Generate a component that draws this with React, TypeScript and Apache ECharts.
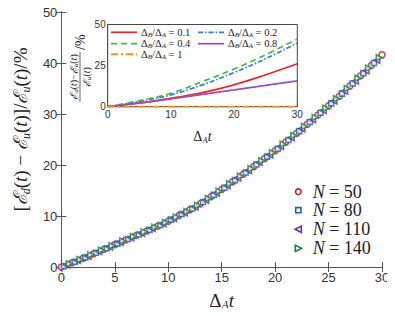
import React, { useEffect, useRef } from "react";
import * as echarts from "echarts";

// ---------- main panel data ----------
const tN50 = [0, 1, 2, 3, 4, 5, 6, 7, 8, 9, 10, 11, 12, 13, 14, 15, 16, 17, 18, 19, 20, 21, 22, 23, 24, 25, 26, 27, 28, 29, 30];
const vN50 = [0, 0.85, 1.7, 2.6, 3.5, 4.4, 5.3, 6.2, 7.1, 8.0, 9.0, 10.1, 11.2, 12.4, 13.8, 15.2, 16.7, 18.2, 19.7, 21.25, 22.8, 24.5, 26.2, 28.0, 29.8, 31.6, 33.5, 35.5, 37.5, 39.5, 41.6];

const tN80 = [0.25, 1.25, 2.25, 3.25, 4.25, 5.25, 6.25, 7.25, 8.25, 9.25, 10.25, 11.25, 12.25, 13.25, 14.25, 15.25, 16.25, 17.25, 18.25, 19.25, 20.25, 21.25, 22.25, 23.25, 24.25, 25.25, 26.25, 27.25, 28.25, 29.25];
const vN80 = [0.2, 1.05, 1.9, 2.8, 3.7, 4.6, 5.5, 6.4, 7.3, 8.25, 9.3, 10.4, 11.5, 12.75, 14.15, 15.55, 17.05, 18.55, 20.1, 21.65, 23.2, 24.9, 26.65, 28.45, 30.25, 32.1, 34.0, 36.0, 38.0, 40.0];

const tN110 = [0.5, 1.5, 2.5, 3.5, 4.5, 5.5, 6.5, 7.5, 8.5, 9.5, 10.5, 11.5, 12.5, 13.5, 14.5, 15.5, 16.5, 17.5, 18.5, 19.5, 20.5, 21.5, 22.5, 23.5, 24.5, 25.5, 26.5, 27.5, 28.5, 29.5];
const vN110 = [0.4, 1.3, 2.15, 3.05, 3.95, 4.85, 5.75, 6.65, 7.55, 8.5, 9.55, 10.65, 11.8, 13.1, 14.5, 15.95, 17.45, 18.95, 20.5, 22.0, 23.65, 25.35, 27.1, 28.9, 30.7, 32.55, 34.5, 36.5, 38.5, 40.55];

const tN140 = [0.75, 1.75, 2.75, 3.75, 4.75, 5.75, 6.75, 7.75, 8.75, 9.75, 10.75, 11.75, 12.75, 13.75, 14.75, 15.75, 16.75, 17.75, 18.75, 19.75, 20.75, 21.75, 22.75, 23.75, 24.75, 25.75, 26.75, 27.75, 28.75, 29.75];
const vN140 = [0.65, 1.5, 2.4, 3.3, 4.2, 5.1, 6.0, 6.9, 7.8, 8.75, 9.8, 10.9, 12.1, 13.45, 14.85, 16.35, 17.8, 19.3, 20.85, 22.4, 24.1, 25.8, 27.55, 29.35, 31.15, 33.0, 35.0, 37.0, 39.0, 41.05];

const mainNames = ["N = 50", "N = 80", "N = 110", "N = 140"];

// ---------- inset data ----------
const insetT = [0, 5, 10, 15, 20, 25, 30];
const ratio01 = [0, 2.3, 5.1, 8.6, 13.3, 19.4, 26.1];
const ratio02 = [0, 3.2, 7.2, 13.3, 20.8, 29.2, 38.8];
const ratio04 = [0, 3.7, 8.2, 15.3, 22.9, 31.6, 41.2];
const ratio08 = [0, 2.2, 4.7, 7.5, 10.2, 13.0, 15.7];
const ratio1 = [0, 0, 0, 0, 0, 0, 0];
const insetLabels = ["0.1", "0.2", "0.4", "0.8", "1"];

const SERIF = "Liberation Serif";
const SANS = "Liberation Sans";

const zip = (a: number[], b: number[]) => a.map((x, i) => [x, b[i]]);

export default function App() {
  const ref = useRef<HTMLDivElement>(null);
  useEffect(() => {
    if (!ref.current) return;
    const chart = echarts.init(ref.current, undefined, { renderer: "svg" });

    const axisCommon = {
      axisLine: { show: true, lineStyle: { color: "#555", width: 1 } },
      axisTick: { show: true, inside: true, length: 5, lineStyle: { color: "#555" } },
      splitLine: { show: false },
    };

    const mainColors = ["#c81e28", "#1a62b8", "#5e2fa0", "#17853a"];
    const mainSymbols = [
      "circle",
      "rect",
      "path://M10,0 L0,5 L10,10 Z",
      "path://M0,0 L10,5 L0,10 Z",
    ];
    const mainData = [zip(tN50, vN50), zip(tN80, vN80), zip(tN110, vN110), zip(tN140, vN140)];

    const insetColors = ["#e8262b", "#2f7ccf", "#4db34a", "#9a4fb8", "#f7901e"];
    const insetDash: any[] = ["solid", [5, 2, 1.5, 2], [6, 4], "solid", [7, 3, 2, 3]];
    const insetVals = [ratio01, ratio02, ratio04, ratio08, ratio1];

    const subRich = {
      i: { fontFamily: SERIF, fontStyle: "italic", fontSize: 19 },
      c: { fontFamily: SERIF, fontStyle: "italic", fontSize: 19 },
      s: { fontFamily: SERIF, fontStyle: "italic", fontSize: 12, verticalAlign: "bottom" },
    };

    const fracRich = {
      c: { fontFamily: SERIF, fontStyle: "italic", fontSize: 11 },
      i: { fontFamily: SERIF, fontStyle: "italic", fontSize: 10 },
      s: { fontFamily: SERIF, fontStyle: "italic", fontSize: 7, verticalAlign: "bottom" },
    };

    // inset legend via graphics
    const legRows = [32.3, 32.3, 43.7, 43.7, 54.3];
    const legX = [111, 198, 111, 198, 111];
    const legend2: any[] = [];
    insetLabels.forEach((lab, k) => {
      const dash = insetDash[k];
      legend2.push({
        type: "line",
        shape: { x1: legX[k], y1: legRows[k], x2: legX[k] + 26, y2: legRows[k] },
        style: {
          stroke: insetColors[k],
          lineWidth: k === 4 ? 2 : 1.7,
          lineDash: dash === "solid" ? null : dash,
        },
        z: 10,
      });
      legend2.push({
        type: "text",
        x: legX[k] + 30,
        y: legRows[k],
        style: {
          text: "Δ{s|B}/Δ{s|A} = " + lab,
          font: `10.5px "${SERIF}"`,
          fill: "#222",
          verticalAlign: "middle",
          lineHeight: 12,
          rich: {
            s: { fontFamily: SERIF, fontStyle: "italic", fontSize: 7, verticalAlign: "bottom", lineHeight: 8 },
          },
        },
        z: 10,
      });
    });

    // main legend via graphics
    const mRows = [191.7, 210.2, 229.3, 248.3];
    const mx = 298.3;
    const legend1: any[] = [
      { type: "circle", shape: { cx: mx, cy: mRows[0], r: 2.8 }, style: { fill: "#fff", stroke: mainColors[0], lineWidth: 1.6 } },
      { type: "rect", shape: { x: mx - 2.6, y: mRows[1] - 2.6, width: 5.2, height: 5.2 }, style: { fill: "#fff", stroke: mainColors[1], lineWidth: 1.6 } },
      { type: "polygon", shape: { points: [[mx + 3, mRows[2] - 3.2], [mx - 3.2, mRows[2]], [mx + 3, mRows[2] + 3.2]] }, style: { fill: "#fff", stroke: mainColors[2], lineWidth: 1.6 } },
      { type: "polygon", shape: { points: [[mx - 3, mRows[3] - 3.2], [mx + 3.2, mRows[3]], [mx - 3, mRows[3] + 3.2]] }, style: { fill: "#fff", stroke: mainColors[3], lineWidth: 1.6 } },
      ...mainNames.map((n, k) => ({
        type: "text",
        x: 312.7,
        y: mRows[k],
        style: {
          text: n.replace("N", "{i|N}"),
          font: `18px "${SERIF}"`,
          fill: "#222",
          verticalAlign: "middle",
          lineHeight: 18,
          rich: { i: { fontFamily: SERIF, fontStyle: "italic", fontSize: 18 } },
        },
      })),
    ];

    const option: any = {
      animation: false,
      backgroundColor: "#fff",
      grid: [
        { left: 59, right: 13, top: 12, bottom: 48.5, show: false },
        { left: 107.7, top: 24.5, width: 189.6, height: 82.2, show: true, backgroundColor: "#fff", borderColor: "#444", borderWidth: 1, z: 5 },
      ],
      xAxis: [
        {
          ...axisCommon, type: "value", gridIndex: 0, min: 0, max: 30, interval: 5, position: "bottom",
          axisLabel: { fontSize: 13, color: "#333", fontFamily: SANS, margin: 4 },
          name: "Δ{s|A}{i|t}", nameLocation: "middle", nameGap: 21,
          nameTextStyle: { fontFamily: SERIF, fontSize: 19, color: "#222", lineHeight: 22, rich: subRich },
        },
        {
          ...axisCommon, type: "value", gridIndex: 0, min: 0, max: 30, interval: 5, position: "top",
          axisLabel: { show: false },
        },
        {
          ...axisCommon, type: "value", gridIndex: 1, min: 0, max: 30, interval: 10, position: "bottom",
          axisTick: { show: true, inside: true, length: 4, lineStyle: { color: "#555" } },
          axisLabel: { fontSize: 10, color: "#333", fontFamily: SANS, margin: 3 },
          name: "Δ{s|A}{i|t}", nameLocation: "middle", nameGap: 22,
          nameTextStyle: {
            fontFamily: SERIF, fontSize: 14, color: "#222", lineHeight: 16,
            rich: {
              i: { fontFamily: SERIF, fontStyle: "italic", fontSize: 14 },
              s: { fontFamily: SERIF, fontStyle: "italic", fontSize: 9, verticalAlign: "bottom" },
            },
          },
        },
      ],
      yAxis: [
        {
          ...axisCommon, type: "value", gridIndex: 0, min: 0, max: 50, interval: 10, position: "left",
          axisLabel: { fontSize: 13, color: "#333", fontFamily: SANS, margin: 4 },
          name: "[{c|ℰ}{s|d}({i|t}) − {c|ℰ}{s|u}({i|t})]/{c|ℰ}{s|u}({i|t})/%",
          nameLocation: "middle", nameGap: 28, nameRotate: 90,
          nameTextStyle: { fontFamily: SERIF, fontSize: 19, color: "#222", lineHeight: 24, rich: subRich, padding: [0, 0, 0, 20] },
        },
        {
          ...axisCommon, type: "value", gridIndex: 0, min: 0, max: 50, interval: 10, position: "right",
          axisLabel: { show: false },
        },
        {
          ...axisCommon, type: "value", gridIndex: 1, min: 0, max: 50, interval: 25, position: "left",
          axisTick: { show: true, inside: true, length: 4, lineStyle: { color: "#555" } },
          axisLabel: { fontSize: 10, color: "#333", fontFamily: SANS, margin: 2 },
        },
      ],
      series: [
        ...mainData.map((d, k) => ({
          type: "scatter",
          name: mainNames[k],
          xAxisIndex: 0,
          yAxisIndex: 0,
          data: d,
          symbol: mainSymbols[k],
          symbolSize: k === 1 ? 5 : 6,
          itemStyle: { color: "#fff", borderColor: mainColors[k], borderWidth: 1.6 },
          z: 3,
        })),
        ...insetVals.map((v, k) => ({
          type: "line",
          name: "ratio " + insetLabels[k],
          xAxisIndex: 2,
          yAxisIndex: 2,
          data: zip(insetT, v),
          smooth: 0.4,
          symbol: "none",
          lineStyle: { color: insetColors[k], width: k === 4 ? 2 : 1.7, type: insetDash[k] },
          z: 6,
        })),
      ],
      graphic: [
        ...legend2,
        ...legend1,
        {
          type: "group",
          x: 80,
          y: 77,
          rotation: Math.PI / 2,
          z: 10,
          children: [
            {
              type: "text",
              x: 0,
              y: -6.5,
              style: {
                text: "{c|ℰ}{s|d}({i|t})−{c|ℰ}{s|u}({i|t})",
                font: `10px "${SERIF}"`,
                fill: "#222",
                align: "center",
                verticalAlign: "middle",
                lineHeight: 12,
                rich: fracRich,
              },
            },
            { type: "line", shape: { x1: -25, y1: 0, x2: 25, y2: 0 }, style: { stroke: "#222", lineWidth: 0.7 } },
            {
              type: "text",
              x: 0,
              y: 6.5,
              style: {
                text: "{c|ℰ}{s|u}({i|t})",
                font: `10px "${SERIF}"`,
                fill: "#222",
                align: "center",
                verticalAlign: "middle",
                lineHeight: 12,
                rich: fracRich,
              },
            },
            {
              type: "text",
              x: 27,
              y: 0,
              style: { text: "/%", font: `14px "${SERIF}"`, fill: "#222", align: "left", verticalAlign: "middle" },
            },
          ],
        },
      ],
    };
    chart.setOption(option);
    return () => chart.dispose();
  }, []);
  return <div ref={ref} style={{ width: 395, height: 316, margin: -8 }} />;
}
